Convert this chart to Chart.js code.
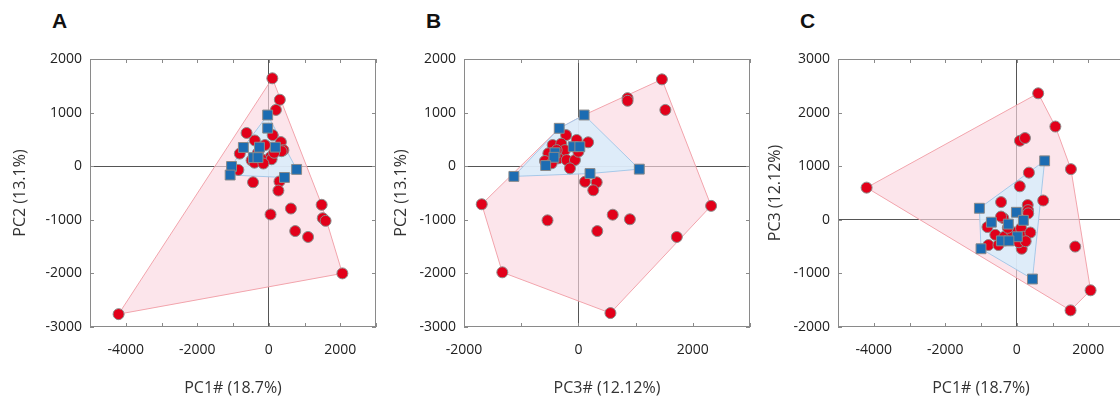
<!DOCTYPE html>
<html>
<head>
<meta charset="utf-8">
<script src="https://cdn.jsdelivr.net/npm/chart.js@4.4.1/dist/chart.umd.min.js"></script>
<style>
html,body{margin:0;padding:0;background:#fff;overflow:hidden}
body{width:1120px;height:402px;position:relative}
canvas{position:absolute;top:0}
.letter{position:absolute;top:10px;font:bold 21px/21px "Liberation Sans",Arial,sans-serif;color:#111}
</style>
</head>
<body>
<div class="letter" style="left:52px">A</div>
<div class="letter" style="left:426px">B</div>
<div class="letter" style="left:800px">C</div>
<canvas id="chartA" width="391" height="402" style="left:0px"></canvas>
<canvas id="chartB" width="391" height="402" style="left:374px"></canvas>
<canvas id="chartC" width="391" height="402" style="left:748px"></canvas>
<script>

// panel A : PC1 vs PC2
const aRed = [
[100,1640],[310,1240],[200,1050],[-620,620],[110,580],[-390,480],[340,450],[-810,235],
[410,300],[360,280],[-105,395],[50,170],[-480,110],[-200,130],[80,130],[-400,65],
[-300,250],[150,250],[-150,50],[-850,-70],[-440,-300],[300,-285],[270,-455],[620,-790],
[50,-900],[1480,-720],[1510,-970],[1590,-1020],[740,-1210],[1100,-1320],[2060,-2000],[-4200,-2760]
]
const aBlue = [
[-30,955],[-30,710],[-710,350],[-260,355],[185,355],[-430,160],[-300,160],
[-1040,-5],[-1080,-165],[780,-60],[440,-210]
]

// panel B : PC3 vs PC2
const bRed = [
[1460,1620],[860,1270],[860,1220],[1520,1050],[-1690,-710],[-1330,-1980],[560,-2740],[2320,-740],
[1720,-1320],[-540,-1010],[330,-1210],[600,-905],[900,-990],[115,-290],[320,-300],[260,-450],
[-215,580],[-450,395],[-300,420],[-235,300],[-525,240],[-585,97],[-350,147],[-205,115],
[-60,115],[-147,-40],[0,270],[170,446],[-30,490],[-467,54],[-380,300]
]
const bBlue = [
[100,955],[-335,707],[-90,364],[25,364],[-409,250],[-427,166],[-572,12],[-1128,-190],[203,-137],[1065,-55]
]

// panel C : PC1 vs PC3
const cRed = [
[600,2360],[1080,1740],[90,1475],[230,1525],[1515,945],[-4200,600],[340,880],[85,625],
[-438,330],[740,360],[306,276],[315,180],[320,120],[1635,-500],[2065,-1315],[1505,-1690],
[-820,-135],[-374,30],[-600,-280],[-347,-316],[-140,-222],[120,-159],[184,-316],[380,-238],
[-792,-471],[-513,-471],[139,-540],[60,-420],[250,-400],[-440,60],[-250,-150]
]
const cBlue = [
[780,1100],[-1045,215],[-10,140],[185,-10],[-710,-45],[-235,-80],[15,-316],[-430,-393],
[-220,-393],[-1000,-540],[440,-1105]
]

const xTitles = ["PC1# (18.7%)","PC3# (12.12%)","PC1# (18.7%)"]
const yTitles = ["PC2 (13.1%)","PC2 (13.1%)","PC3 (12.12%)"]
const xRanges = [[-5000,3000],[-2000,3000],[-5000,3000]]
const yRanges = [[-3000,2000],[-3000,2000],[-2000,3000]]
const yTitleGap = [11,18,18]

const font = "'Open Sans', 'Liberation Sans', sans-serif"

function toXY(list){
return list.map(p=>({x:p[0],y:p[1]}))
}

// convex hull (monotone chain), closed
function hull(list){
let pts=toXY(list).sort((a,b)=>a.x-b.x||a.y-b.y)
const cross=(o,a,b)=>(a.x-o.x)*(b.y-o.y)-(a.y-o.y)*(b.x-o.x)
let lower=[],upper=[]
pts.forEach(q=>{
while(lower.length>=2 && cross(lower[lower.length-2],lower[lower.length-1],q)<=0) lower.pop()
lower.push(q)
})
pts.slice().reverse().forEach(q=>{
while(upper.length>=2 && cross(upper[upper.length-2],upper[upper.length-1],q)<=0) upper.pop()
upper.push(q)
})
lower.pop()
upper.pop()
let h=lower.concat(upper)
h.push(h[0])
return h
}

// box round the plot with small inward ticks
const frame={
id:"frame",
afterDraw(chart){
const {ctx,chartArea:a,scales:{x,y}}=chart
ctx.save()
ctx.strokeStyle="#8a8a8a"
ctx.lineWidth=1
ctx.strokeRect(a.left+.5,a.top+.5,a.width-1,a.height-1)
ctx.beginPath()
x.ticks.forEach(t=>{
let px=Math.round(x.getPixelForValue(t.value))+.5
ctx.moveTo(px,a.top);ctx.lineTo(px,a.top+4)
ctx.moveTo(px,a.bottom);ctx.lineTo(px,a.bottom-4)
})
y.ticks.forEach(t=>{
let py=Math.round(y.getPixelForValue(t.value))+.5
ctx.moveTo(a.left,py);ctx.lineTo(a.left+4,py)
ctx.moveTo(a.right,py);ctx.lineTo(a.right-4,py)
})
ctx.stroke()
ctx.restore()
}
}

const zeroLine=c=>c.tick && c.tick.value===0 ? "#555" : "rgba(0,0,0,0)"

function buildPanel(id,red,blue,i){

new Chart(document.getElementById(id),{

type:"scatter",

data:{
datasets:[
{
data:toXY(blue),
pointStyle:"rect",
pointRadius:7,
backgroundColor:"#1c6cb2",
borderColor:"#8a8a8a",
borderWidth:1
},
{
data:toXY(red),
pointStyle:"circle",
pointRadius:5.5,
backgroundColor:"#e2001a",
borderColor:"#8a8a8a",
borderWidth:1
},
{
type:"line",
data:hull(blue),
borderColor:"#a6c8e8",
borderWidth:1,
backgroundColor:"rgba(217,237,251,0.85)",
fill:"shape",
pointRadius:0,
tension:0
},
{
type:"line",
data:hull(red.concat(blue)),
borderColor:"#f2a4ac",
borderWidth:1,
backgroundColor:"rgba(250,215,224,0.65)",
fill:"shape",
pointRadius:0,
tension:0
}
]
},

options:{
responsive:false,
animation:false,
events:[],
layout:{autoPadding:false,padding:{left:0,right:0,top:59,bottom:0}},
plugins:{
legend:{display:false},
tooltip:{enabled:false}
},
scales:{
x:{
type:"linear",
min:xRanges[i][0],
max:xRanges[i][1],
afterFit:s=>{s.height=75},
grid:{color:zeroLine,drawTicks:false},
border:{display:false},
ticks:{
stepSize:1000,
autoSkip:false,
maxRotation:0,
padding:15,
color:"#222",
font:{family:font,size:14},
callback:v=>v%2000===0 ? String(v) : ""
},
title:{
display:true,
text:xTitles[i],
color:"#333",
font:{family:font,size:16},
padding:{top:0,bottom:4}
}
},
y:{
type:"linear",
min:yRanges[i][0],
max:yRanges[i][1],
afterFit:s=>{s.width=90},
grid:{color:zeroLine,drawTicks:false},
border:{display:false},
ticks:{
stepSize:1000,
padding:8,
color:"#222",
font:{family:font,size:14},
callback:v=>String(v)
},
title:{
display:true,
text:yTitles[i],
color:"#333",
font:{family:font,size:16},
padding:{top:yTitleGap[i],bottom:0}
}
}
}
},

plugins:[frame]

})

}

buildPanel("chartA",aRed,aBlue,0)
buildPanel("chartB",bRed,bBlue,1)
buildPanel("chartC",cRed,cBlue,2)

</script>
</body>
</html>
